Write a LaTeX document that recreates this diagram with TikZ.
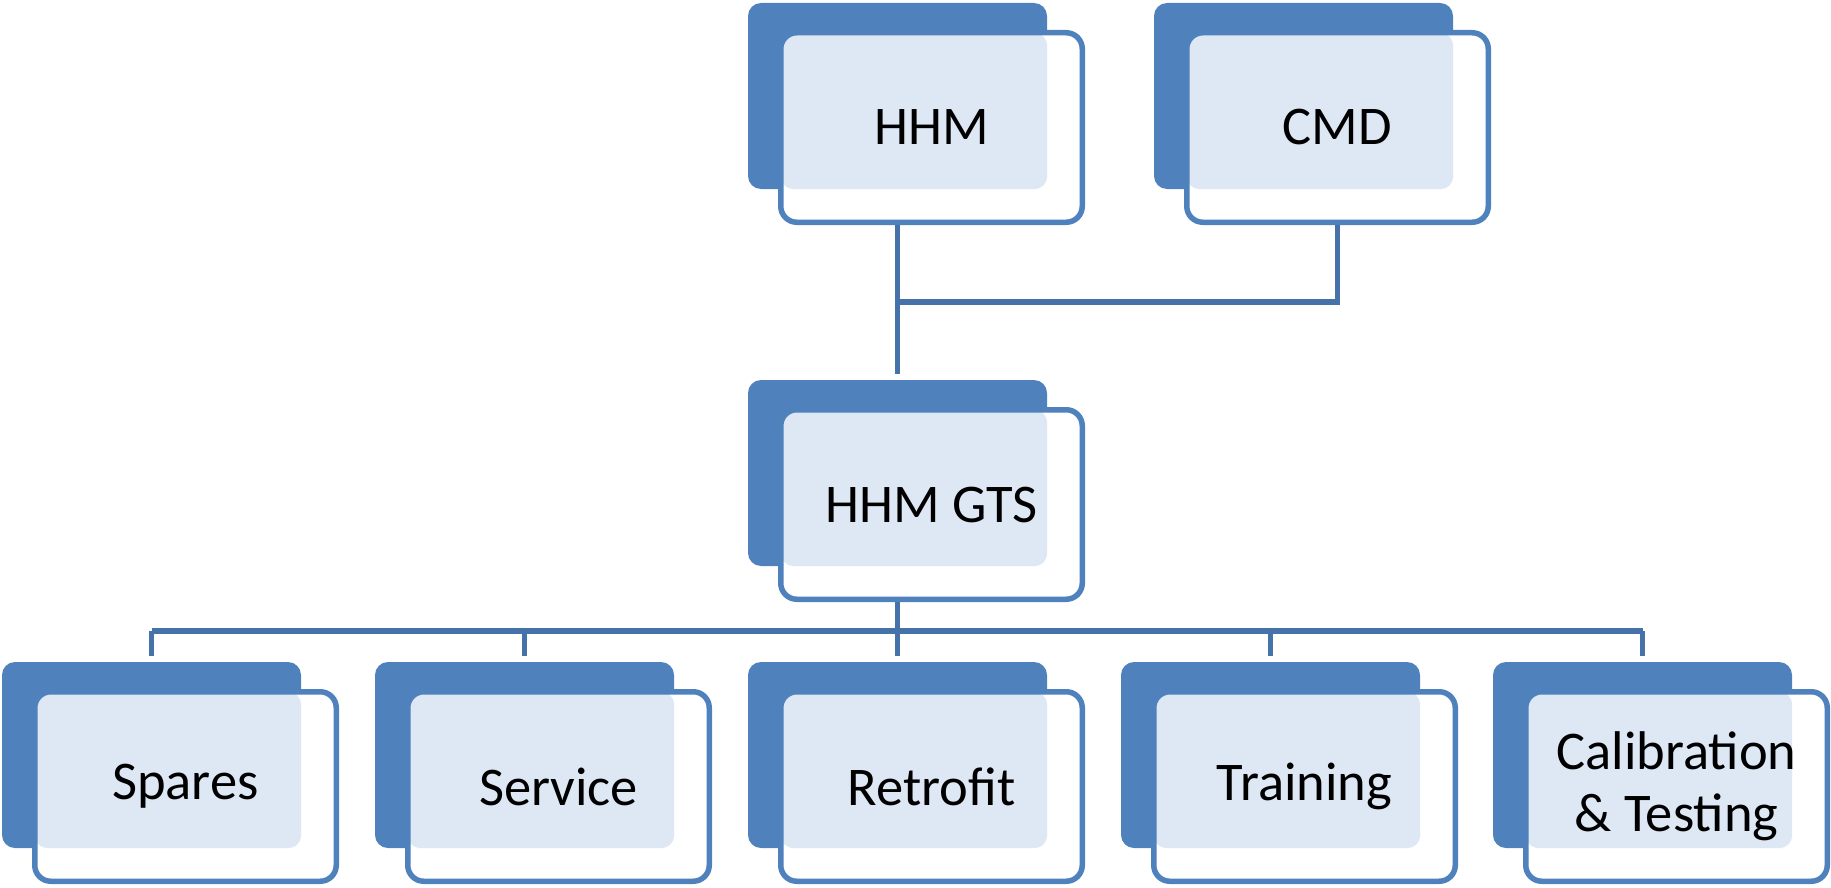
\documentclass[tikz,border=0pt]{standalone}
\usepackage{fontspec}
\setmainfont{Carlito}
\definecolor{boxblue}{RGB}{79,129,189}
\definecolor{lineblue}{RGB}{70,114,170}
\definecolor{overlapblue}{RGB}{222,231,244}

\begin{document}
\begin{tikzpicture}[x=1pt, y=-1pt]
    \tikzstyle{back}=[rectangle, fill=boxblue, rounded corners=13pt, inner sep=0pt,
                      minimum width=299pt, minimum height=186pt]
    \tikzstyle{front}=[rectangle, fill=white, draw=boxblue, line width=5.5pt, rounded corners=16pt,
                       minimum width=301.5pt, minimum height=189.5pt, align=center,
                       font=\fontsize{54.5}{62}\selectfont,
                       path picture={\fill[overlapblue, rounded corners=13pt]
                         (path picture bounding box.north west) rectangle (#1.south east);}]
    \tikzstyle{conn}=[draw=lineblue, line width=5.5pt]

    \useasboundingbox (0,0) rectangle (1831,888);

    % top row
    \node[back] (hhmback) at (897.5, 96) {};
    \node[front=hhmback] (hhm) at (931.5, 127.5) {HHM};
    \node[back] (cmdback) at (1303.5, 96) {};
    \node[front=cmdback] (cmd) at (1337.5, 127.5) {CMD};

    % middle
    \node[back] (gtsback) at (897.5, 473) {};
    \node[front=gtsback] (gts) at (931.5, 504.5) {HHM GTS};

    % bottom row
    \node[back] (sparesback) at (151.5, 755) {};
    \node[front=sparesback] (spares) at (185.5, 786.5) {Spares};
    \node[back] (serviceback) at (524.5, 755) {};
    \node[front=serviceback] (service) at (558.5, 786.5) {Service};
    \node[back] (retrofitback) at (897.5, 755) {};
    \node[front=retrofitback] (retrofit) at (931.5, 786.5) {Retrofit};
    \node[back] (trainingback) at (1270.5, 755) {};
    \node[front=trainingback] (training) at (1304.5, 786.5) {Training};
    \node[back] (calibback) at (1642.5, 755) {};
    \node[front=calibback] (calib) at (1676.5, 786.5) {Calibration\\\& Testing};

    % joints of the connectors
    \coordinate (join) at (897.5, 302);
    \coordinate (bus) at (897.5, 631);

    % HHM and CMD to HHM GTS
    \path[conn] (hhmback.center |- hhm.south) -- ([yshift=6pt]gtsback.north);
    \path[conn] (cmd.south) |- (join);

    % HHM GTS to the five branches
    \path[conn] (gtsback.center |- gts.south) -- (bus);
    \path[conn] (bus -| sparesback.center) -- (bus -| calibback.center);
    \path[conn] (bus -| sparesback.center) -- ([yshift=6pt]sparesback.north);
    \path[conn] (bus -| serviceback.center) -- ([yshift=6pt]serviceback.north);
    \path[conn] (bus -| retrofitback.center) -- ([yshift=6pt]retrofitback.north);
    \path[conn] (bus -| trainingback.center) -- ([yshift=6pt]trainingback.north);
    \path[conn] (bus -| calibback.center) -- ([yshift=6pt]calibback.north);
\end{tikzpicture}
\end{document}
